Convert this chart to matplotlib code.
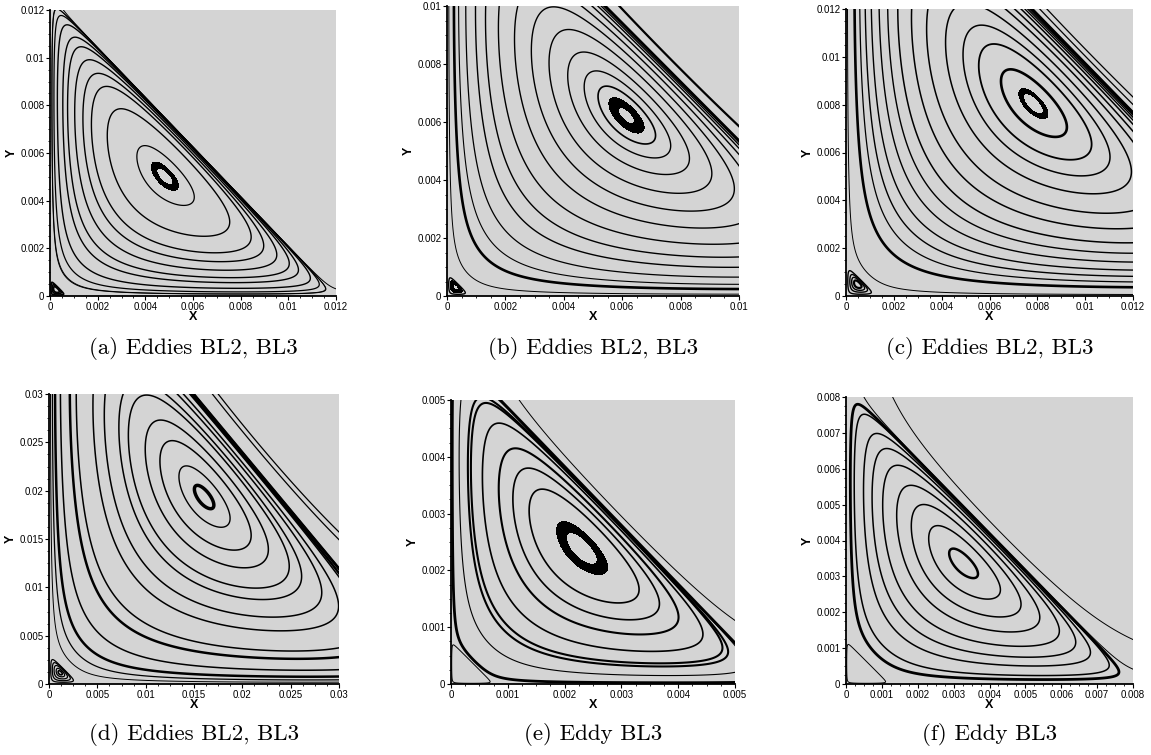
import numpy as np
import matplotlib.pyplot as plt
from matplotlib.ticker import MultipleLocator, AutoMinorLocator, FormatStrFormatter

plt.rcParams['font.family'] = ['Liberation Sans', 'DejaVu Sans']
plt.rcParams['contour.negative_linestyle'] = 'solid'

# panel extents (square boxes) and tick spacing
panel_lim = [0.012, 0.01, 0.012, 0.03, 0.005, 0.008]
tick_step = [0.002, 0.002, 0.002, 0.005, 0.001, 0.001]
captions = ["(a) Eddies BL2, BL3", "(b) Eddies BL2, BL3", "(c) Eddies BL2, BL3",
            "(d) Eddies BL2, BL3", "(e) Eddy BL3", "(f) Eddy BL3"]

# main eddy: separatrix intercepts on x and y axis; corner eddy size
sep_x = [0.0120, 0.0153, 0.0195, 0.040, 0.0057, 0.0081]
sep_y = [0.0125, 0.0155, 0.0200, 0.048, 0.0059, 0.0083]
corner_d = [0.0007, 0.0008, 0.0013, 0.0031, 0.00075, 0.0012]

# streamline seeds: x positions along the row through the eddy centre
center_y = [0.0050, 0.0062, 0.0080, 0.0190, 0.00235, 0.0034]
seed_x = [
    [0.0001, 0.00021, 0.00039, 0.00067, 0.00091, 0.00126, 0.00165, 0.00204, 0.00273, 0.00389],
    [0.00008, 0.0003, 0.0005, 0.0008, 0.0012, 0.0016, 0.0021, 0.0027, 0.0033, 0.0039, 0.0045, 0.005, 0.0054],
    [0.00008, 0.00045, 0.00072, 0.001, 0.00131, 0.0017, 0.00212, 0.0026, 0.00323, 0.0039, 0.0047, 0.0054, 0.006, 0.0068],
    [0.0002, 0.00045, 0.0008, 0.0015, 0.0027, 0.0035, 0.0055, 0.0068, 0.0084, 0.0094, 0.0111, 0.0125, 0.0142, 0.0155],
    [0.00003, 0.00019, 0.00045, 0.00069, 0.00101, 0.00127, 0.00155],
    [0.00016, 0.0003, 0.00062, 0.0009, 0.00123, 0.00164, 0.00204, 0.00248, 0.00295],
]
seed_w = [
    [0.7, 0.9, 1.0, 1.0, 1.0, 1.0, 1.0, 1.0, 1.0, 0.9],
    [0.7, 1.9, 0.8, 0.9, 1.0, 1.0, 1.0, 1.0, 1.0, 1.0, 1.0, 1.0, 1.2],
    [0.7, 1.9, 0.9, 1.0, 1.0, 1.0, 1.0, 1.1, 1.1, 1.1, 1.1, 1.1, 1.3, 1.9],
    [0.7, 0.9, 1.8, 1.1, 1.8, 1.1, 1.1, 1.1, 1.1, 1.1, 1.1, 1.1, 1.0, 2.5],
    [2.0, 0.8, 1.5, 1.2, 1.5, 1.2, 1.2],
    [2.0, 1.1, 1.1, 1.1, 1.1, 1.1, 1.1, 1.1, 1.8],
]
# black eye ring: outer / inner x along the centre row (None = no ring)
eye_x = [(0.0044, 0.00458), (0.0057, 0.00595), (0.0074, 0.00755), None, (0.00198, 0.00212), None]

# streamlines outside the main eddy
outer_x = [[0.012, 0.0004], [0.0059], [0.0081, 0.0084], [0.0169, 0.0175], [0.0007, 0.0012], [0.0005, 0.0013]]
outer_y = [[0.0003, 0.012], [0.01], [0.012, 0.012], [0.03, 0.03], [0.005, 0.005], [0.008, 0.008]]
outer_w = [[0.7, 0.7], [1.6], [0.9, 0.9], [0.9, 0.9], [1.5, 0.7], [0.7, 0.7]]

# corner eddy: contour levels as fraction of its strength, optional black band
corner_frac = [[0.1, 0.4, 0.7], [0.15], [0.1, 0.35, 0.6, 0.85], [0.1, 0.3, 0.55, 0.8, 0.95], [0.01], [0.01]]
corner_w = [[1.3, 1.3, 1.3], [1.0], [1.0, 1.0, 1.0, 1.6], [0.9, 0.9, 0.9, 0.9, 1.2], [0.7], [0.7]]
corner_band = [None, (0.45, 0.85), None, None, None, None]

# axes boxes in pixels: left, top, right, bottom
box_px = [(50, 10, 336, 296), (447, 6, 739, 296), (846, 9, 1133, 296),
          (49, 394, 339, 684), (451, 400, 735, 684), (846, 397, 1133, 684)]
W, H = 1151, 755


def stream(x, y, A, B, d):
    r = np.maximum(x + y, 1e-12)
    return x**2 * y**2 * (1 - x / A - y / B) * (1 - d / r)


def line(ax, X, Y, P, level, w):
    ax.contour(X, Y, P, levels=[level], colors='k', linewidths=w, linestyles='solid')


fig = plt.figure(figsize=(W / 100, H / 100), dpi=100)

for i in range(6):
    l, t, r, b = box_px[i]
    ax = fig.add_axes([l / W, 1 - b / H, (r - l) / W, (b - t) / H])
    ax.set_facecolor('#d4d4d4')
    lim = panel_lim[i]
    A, B, d = sep_x[i], sep_y[i], corner_d[i]

    g = np.linspace(0, lim * 1.02, 800)
    X, Y = np.meshgrid(g, g)
    P = stream(X, Y, A, B, d)

    yc = center_y[i]
    for sx, w in zip(seed_x[i], seed_w[i]):
        line(ax, X, Y, P, stream(sx, yc, A, B, d), w)
    for ox, oy, w in zip(outer_x[i], outer_y[i], outer_w[i]):
        line(ax, X, Y, P, stream(ox, oy, A, B, d), w)
    if eye_x[i] is not None:
        lo = stream(eye_x[i][0], yc, A, B, d)
        hi = stream(eye_x[i][1], yc, A, B, d)
        ax.contourf(X, Y, P, levels=[lo, hi], colors='k')

    # corner eddy on a fine local grid
    gc = np.linspace(0, d * 1.5, 300)
    XC, YC = np.meshgrid(gc, gc)
    PC = stream(XC, YC, A, B, d)
    pmin = PC.min()
    for f, w in zip(corner_frac[i], corner_w[i]):
        line(ax, XC, YC, PC, f * pmin, w)
    if corner_band[i] is not None:
        ax.contourf(XC, YC, PC, levels=[corner_band[i][1] * pmin, corner_band[i][0] * pmin], colors='k')

    ax.set_xlim(0, lim)
    ax.set_ylim(0, lim)
    for s in ['top', 'right']:
        ax.spines[s].set_visible(False)
    for s in ['left', 'bottom']:
        ax.spines[s].set_linewidth(1.3)
    ax.xaxis.set_major_locator(MultipleLocator(tick_step[i]))
    ax.yaxis.set_major_locator(MultipleLocator(tick_step[i]))
    ax.xaxis.set_minor_locator(AutoMinorLocator(4))
    ax.yaxis.set_minor_locator(AutoMinorLocator(4))
    ax.xaxis.set_major_formatter(FormatStrFormatter('%g'))
    ax.yaxis.set_major_formatter(FormatStrFormatter('%g'))
    ax.tick_params(which='major', direction='out', length=3, width=0.8, labelsize=7, pad=1)
    ax.tick_params(which='minor', direction='out', length=1.6, width=0.6)
    ax.set_xlabel('X', fontsize=9, fontweight='bold', labelpad=-0.5)
    ax.set_ylabel('Y', fontsize=9, fontweight='bold', labelpad=1.5)

    cy = 348 if i < 3 else 735
    fig.text((l + r) / 2 / W, 1 - cy / H, captions[i], family='cmr10', fontsize=16.5,
             ha='center', va='center')

fig.savefig('out.png', dpi=100)
